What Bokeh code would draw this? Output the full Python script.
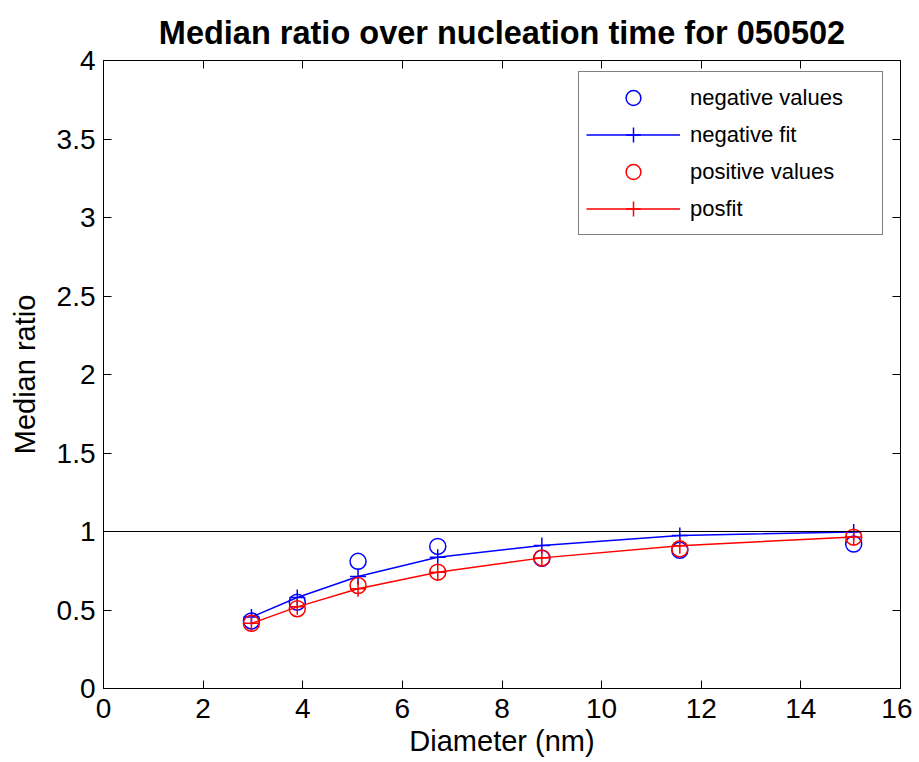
from bokeh.plotting import figure
from bokeh.models import (Range1d, LinearAxis, FixedTicker, NumeralTickFormatter,
                          Span, Legend, LegendItem)
from bokeh.embed import file_html
from bokeh.resources import INLINE

# ---- data ----
diameter = [2.97, 3.89, 5.11, 6.71, 8.80, 11.57, 15.06]
neg_values = [0.43, 0.55, 0.81, 0.905, 0.83, 0.88, 0.92]
neg_fit = [0.455, 0.58, 0.713, 0.836, 0.911, 0.975, 0.997]
pos_values = [0.415, 0.508, 0.656, 0.741, 0.832, 0.89, 0.964]
pos_fit = [0.415, 0.52, 0.635, 0.741, 0.832, 0.91, 0.965]
reference_level = 1.0

x_ticks = [0, 2, 4, 6, 8, 10, 12, 14, 16]
y_ticks = [0, 0.5, 1, 1.5, 2, 2.5, 3, 3.5, 4]

FONT = "Liberation Sans"

p = figure(width=912, height=762, output_backend="svg", toolbar_location=None,
           x_range=Range1d(0, 16), y_range=Range1d(0, 4),
           min_border_left=103, min_border_right=12, min_border_top=60,
           min_border_bottom=74, background_fill_color="white",
           border_fill_color="white")

p.title.text = "Median ratio over nucleation time for 050502"
p.title.text_font = FONT
p.title.text_font_size = "32.5px"
p.title.text_font_style = "bold"
p.title.align = "center"
p.title.text_color = "black"
p.title.standoff = 20

p.xgrid.visible = False
p.ygrid.visible = False
p.outline_line_color = "black"
p.outline_line_width = 1


def style_axis(ax, ticks, show_labels):
    ax.ticker = FixedTicker(ticks=ticks)
    ax.formatter = NumeralTickFormatter(format="0.[0]")
    ax.major_tick_in = 8
    ax.major_tick_out = 0
    ax.minor_tick_in = 0
    ax.minor_tick_out = 0
    ax.axis_line_color = "black"
    ax.major_tick_line_color = "black"
    ax.major_label_text_font = FONT
    if show_labels:
        ax.major_label_text_color = "black"
        ax.major_label_text_font_size = "28px"
        ax.major_label_standoff = 8
    else:
        ax.major_label_text_color = None
        ax.major_label_text_font_size = "1px"
        ax.major_label_standoff = 0


style_axis(p.xaxis[0], x_ticks, True)
style_axis(p.yaxis[0], y_ticks, True)
p.xaxis[0].major_label_standoff = 10
p.xaxis[0].axis_label = "Diameter (nm)"
p.yaxis[0].axis_label = "Median ratio"
for ax in (p.xaxis[0], p.yaxis[0]):
    ax.axis_label_text_font = FONT
    ax.axis_label_text_font_size = "29px"
    ax.axis_label_text_font_style = "normal"
    ax.axis_label_text_color = "black"
p.xaxis[0].axis_label_standoff = 4
p.yaxis[0].axis_label_standoff = 13

top_axis = LinearAxis()
style_axis(top_axis, x_ticks, False)
p.add_layout(top_axis, "above")
right_axis = LinearAxis()
style_axis(right_axis, y_ticks, False)
p.add_layout(right_axis, "right")

p.add_layout(Span(location=reference_level, dimension="width",
                  line_color="black", line_width=1))

r_nv = p.scatter(diameter, neg_values, marker="circle", size=16,
                 fill_color=None, line_color="blue", line_width=1.5)
r_nfl = p.line(diameter, neg_fit, line_color="blue", line_width=1.5)
r_nfm = p.scatter(diameter, neg_fit, marker="cross", size=16,
                  line_color="blue", line_width=1.5)
r_pv = p.scatter(diameter, pos_values, marker="circle", size=16,
                 fill_color=None, line_color="red", line_width=1.5)
r_pfl = p.line(diameter, pos_fit, line_color="red", line_width=1.5)
r_pfm = p.scatter(diameter, pos_fit, marker="cross", size=16,
                  line_color="red", line_width=1.5)

legend = Legend(items=[
    LegendItem(label="negative values", renderers=[r_nv]),
    LegendItem(label="negative fit", renderers=[r_nfl, r_nfm]),
    LegendItem(label="positive values", renderers=[r_pv]),
    LegendItem(label="posfit", renderers=[r_pfl, r_pfm]),
], location=(475, 453))
legend.border_line_color = "black"
legend.border_line_width = 1
legend.background_fill_color = "white"
legend.background_fill_alpha = 1
legend.padding = 7
legend.spacing = 0
legend.margin = 0
legend.glyph_width = 94
legend.glyph_height = 37
legend.label_height = 26
legend.label_width = 185
legend.label_standoff = 10
legend.label_text_font = FONT
legend.label_text_font_size = "22px"
legend.label_text_color = "black"
p.add_layout(legend, "center")

open("out.html", "w").write(file_html(p, INLINE))
